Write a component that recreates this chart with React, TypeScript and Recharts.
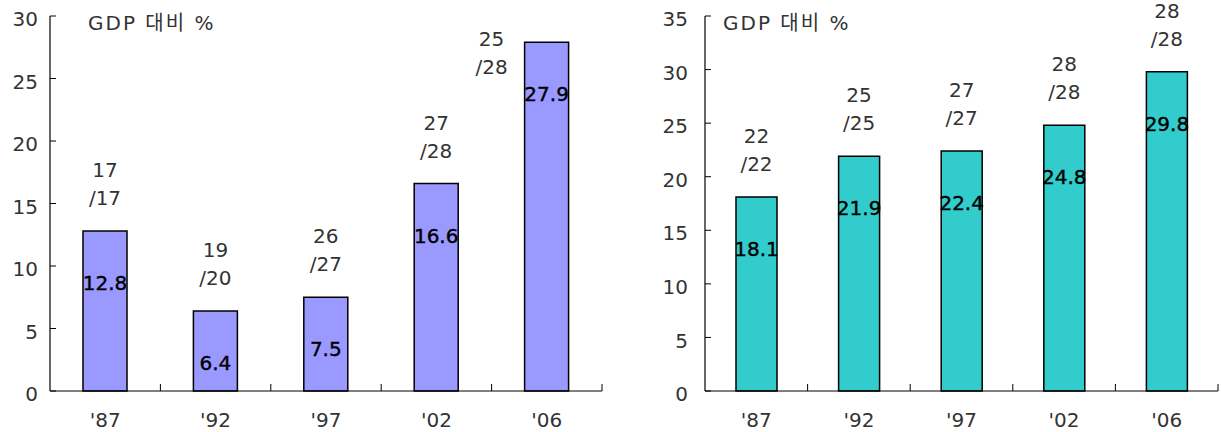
import React from "react";
import { BarChart, Bar, XAxis, YAxis, LabelList } from "recharts";

const years = ["'87", "'92", "'97", "'02", "'06"];

const leftValues = [12.8, 6.4, 7.5, 16.6, 27.9];
const leftRatios = ["17/17", "19/20", "26/27", "27/28", "25/28"];
const leftTicks = [0, 5, 10, 15, 20, 25, 30];

const rightValues = [18.1, 21.9, 22.4, 24.8, 29.8];
const rightRatios = ["22/22", "25/25", "27/27", "28/28", "28/28"];
const rightTicks = [0, 5, 10, 15, 20, 25, 30, 35];

const FONT = "'DejaVu Sans', 'Noto Sans CJK KR', sans-serif";
const TEXT = "#333";

type PanelProps = {
  left: number;
  width: number;
  height: number;
  yAxisWidth: number;
  marginRight: number;
  tickMargin: number;
  values: number[];
  ratios: string[];
  ticks: number[];
  fill: string;
  barSize: number;
  titleX: number;
};

function Panel(p: PanelProps) {
  const data = years.map((year, i) => ({
    year,
    value: p.values[i],
    ratio: p.ratios[i],
  }));

  const plotW = p.width - p.yAxisWidth - p.marginRight;
  const half = plotW / years.length / 2;

  // tick labels below, small tick marks at the category boundaries pointing up
  const renderXTick = (props: any) => {
    const { x, y, payload } = props;
    return (
      <g>
        <line x1={x + half} x2={x + half} y1={y} y2={y - 7} stroke="#000" strokeWidth={1} />
        <text x={x} y={y + 36} textAnchor="middle" fontSize={20} fill={TEXT} fontFamily={FONT}>
          {payload.value}
        </text>
      </g>
    );
  };

  const renderInside = (props: any) => {
    const { x, y, width, value } = props;
    return (
      <text
        x={x + width / 2}
        y={y + 59}
        textAnchor="middle"
        fontSize={20}
        fill="#000"
        stroke="#000"
        strokeWidth={0.4}
        fontFamily={FONT}
      >
        {value}
      </text>
    );
  };

  const renderRatio = (props: any) => {
    const { x, y, width, value } = props;
    const [a, b] = String(value).split("/");
    let cx = x + width / 2;
    let y1 = y - 61;
    let y2 = y - 33;
    // no room above the bar: put the label beside it
    if (y1 < 5) {
      cx = x - 33;
      y1 = y - 3;
      y2 = y + 25;
    }
    return (
      <g fontSize={20} fill={TEXT} fontFamily={FONT} textAnchor="middle">
        <text x={cx} y={y1 + 7}>{a}</text>
        <text x={cx} y={y2 + 7}>/{b}</text>
      </g>
    );
  };

  const top = p.ticks[p.ticks.length - 1];

  return (
    <div style={{ position: "absolute", left: p.left, top: 0, width: p.width, height: p.height }}>
      <BarChart
        width={p.width}
        height={p.height}
        data={data}
        margin={{ top: 16, right: p.marginRight, left: 0, bottom: 11 }}
        barCategoryGap={0}
      >
        <XAxis
          dataKey="year"
          height={30}
          axisLine={{ stroke: "#000", strokeWidth: 1.2 }}
          tickLine={false}
          tickSize={0}
          tickMargin={0}
          tick={renderXTick}
          interval={0}
        />
        <YAxis
          width={p.yAxisWidth}
          domain={[0, top]}
          ticks={p.ticks}
          interval={0}
          axisLine={{ stroke: "#000", strokeWidth: 1.2 }}
          tickLine={{ stroke: "#000" }}
          tickSize={-6}
          tickMargin={p.tickMargin}
          tick={{ fill: TEXT, fontSize: 20, fontFamily: FONT, dy: 3 }}
        />
        <Bar
          dataKey="value"
          fill={p.fill}
          stroke="#000"
          strokeWidth={1.5}
          barSize={p.barSize}
          isAnimationActive={false}
        >
          <LabelList dataKey="value" content={renderInside} />
          <LabelList dataKey="ratio" content={renderRatio} />
        </Bar>
      </BarChart>
      <div
        style={{
          position: "absolute",
          left: p.titleX,
          top: 7,
          fontFamily: FONT,
          fontSize: 20,
          color: TEXT,
          letterSpacing: 2,
          whiteSpace: "nowrap",
        }}
      >
        GDP 대비 %
      </div>
    </div>
  );
}

export default function App() {
  return (
    <div style={{ position: "absolute", left: 0, top: 0, width: 1221, height: 432, background: "#fff" }}>
      <Panel
        left={0}
        width={615}
        height={432}
        yAxisWidth={50}
        marginRight={13}
        tickMargin={18}
        values={leftValues}
        ratios={leftRatios}
        ticks={leftTicks}
        fill="#9999FF"
        barSize={44}
        titleX={88}
      />
      <Panel
        left={615}
        width={606}
        height={432}
        yAxisWidth={90}
        marginRight={3}
        tickMargin={23}
        values={rightValues}
        ratios={rightRatios}
        ticks={rightTicks}
        fill="#33CCCC"
        barSize={41}
        titleX={108}
      />
    </div>
  );
}
